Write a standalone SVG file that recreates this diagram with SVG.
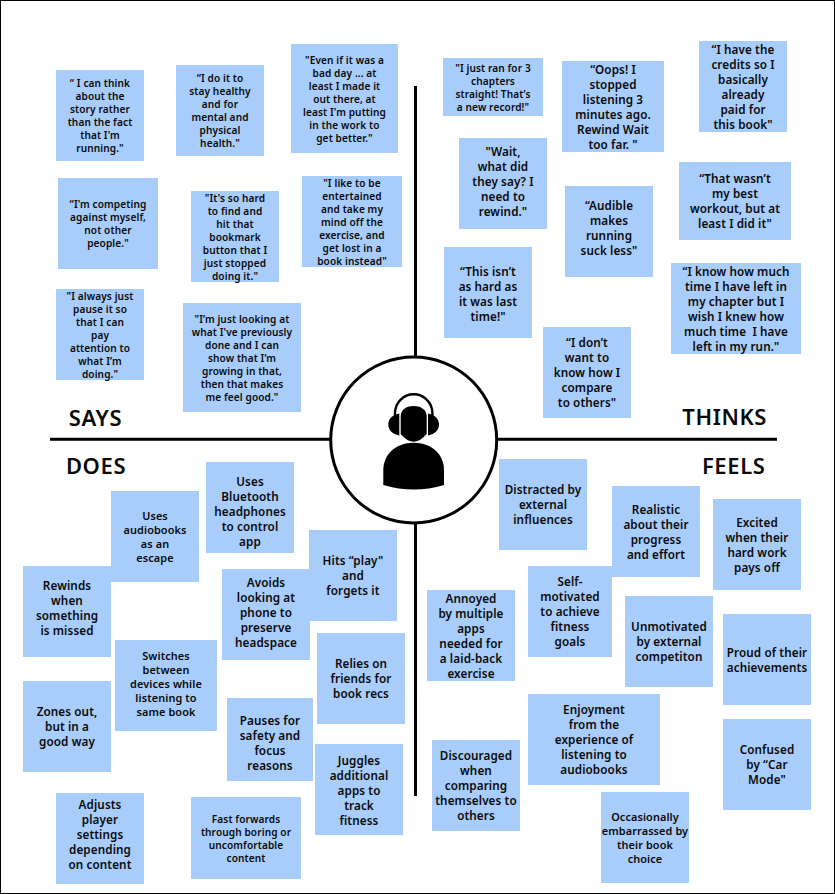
<svg xmlns="http://www.w3.org/2000/svg" width="835" height="894" viewBox="0 0 835 894">
<style>
text{font-family:"Noto Sans","Liberation Sans",sans-serif;font-weight:600;fill:#0a0a0a;text-anchor:middle;white-space:pre}
.n{fill:#a8cdfb}
.s{font-size:10.1px;letter-spacing:.1px}
.t{font-size:10.9px;letter-spacing:.1px}
.m{font-size:11.7px;letter-spacing:.1px}
.h{font-size:22px;letter-spacing:.6px}
.l{stroke:#000;stroke-width:3;fill:none}
</style>
<rect x=".5" y=".5" width="834" height="893" fill="#fff" stroke="#000"/>
<g id="connectors">
<path class="l" d="M415.5 86V357M415.5 523V796M50 439.3H330M497 439.3H777"/>
</g>
<g id="says-1"><rect class="n" x="56" y="70" width="88" height="91"/><text class="s"><tspan x="100" y="87">“ I can think</tspan><tspan x="100" y="100">about the</tspan><tspan x="100" y="113">story rather</tspan><tspan x="100" y="126">than the fact</tspan><tspan x="100" y="139">that I'm</tspan><tspan x="100" y="152">running."</tspan></text></g>
<g id="says-2"><rect class="n" x="176" y="65" width="88" height="91"/><text class="s"><tspan x="220" y="82">“I do it to</tspan><tspan x="220" y="95">stay healthy</tspan><tspan x="220" y="108">and for</tspan><tspan x="220" y="121">mental and</tspan><tspan x="220" y="134">physical</tspan><tspan x="220" y="147">health."</tspan></text></g>
<g id="says-3"><rect class="n" x="291" y="44" width="107" height="109"/><text class="s"><tspan x="344.5" y="63.5">"Even if it was a</tspan><tspan x="344.5" y="76.5">bad day ... at</tspan><tspan x="344.5" y="89.5">least I made it</tspan><tspan x="344.5" y="102.5">out there, at</tspan><tspan x="344.5" y="115.5">least I'm putting</tspan><tspan x="344.5" y="128.5">in the work to</tspan><tspan x="344.5" y="141.5">get better."</tspan></text></g>
<g id="says-4"><rect class="n" x="58" y="178" width="100" height="91"/><text class="s"><tspan x="108" y="208">“I'm competing</tspan><tspan x="108" y="221">against myself,</tspan><tspan x="108" y="234">not other</tspan><tspan x="108" y="247">people."</tspan></text></g>
<g id="says-5"><rect class="n" x="191" y="191" width="88" height="91"/><text class="s"><tspan x="235" y="201.5">"It's so hard</tspan><tspan x="235" y="214.5">to find and</tspan><tspan x="235" y="227.5">hit that</tspan><tspan x="235" y="240.5">bookmark</tspan><tspan x="235" y="253.5">button that I</tspan><tspan x="235" y="266.5">just stopped</tspan><tspan x="235" y="279.5">doing it."</tspan></text></g>
<g id="says-6"><rect class="n" x="302" y="176" width="100" height="91"/><text class="s"><tspan x="352" y="187">"I like to be</tspan><tspan x="352" y="200">entertained</tspan><tspan x="352" y="213">and take my</tspan><tspan x="352" y="226">mind off the</tspan><tspan x="352" y="239">exercise, and</tspan><tspan x="352" y="252">get lost in a</tspan><tspan x="352" y="265">book instead"</tspan></text></g>
<g id="says-7"><rect class="n" x="56" y="289" width="88" height="91"/><text class="s"><tspan x="100" y="299.5">"I always just</tspan><tspan x="100" y="312.5">pause it so</tspan><tspan x="100" y="325.5">that I can</tspan><tspan x="100" y="338.5">pay</tspan><tspan x="100" y="351.5">attention to</tspan><tspan x="100" y="364.5">what I’m</tspan><tspan x="100" y="377.5">doing."</tspan></text></g>
<g id="says-8"><rect class="n" x="183" y="303" width="118" height="109"/><text class="s"><tspan x="242" y="322.7">"I’m just looking at</tspan><tspan x="242" y="335.7">what I've previously</tspan><tspan x="242" y="348.7">done and I can</tspan><tspan x="242" y="361.7">show that I’m</tspan><tspan x="242" y="374.7">growing in that,</tspan><tspan x="242" y="387.7">then that makes</tspan><tspan x="242" y="400.7">me feel good."</tspan></text></g>
<g id="thinks-1"><rect class="n" x="443" y="58" width="100" height="58"/><text class="s"><tspan x="493" y="71.7">"I just ran for 3</tspan><tspan x="493" y="84.7">chapters</tspan><tspan x="493" y="97.7">straight! That’s</tspan><tspan x="493" y="110.7">a new record!"</tspan></text></g>
<g id="thinks-2"><rect class="n" x="562" y="61" width="102" height="91"/><text class="m"><tspan x="613" y="73.5">“Oops! I</tspan><tspan x="613" y="88.5">stopped</tspan><tspan x="613" y="103.5">listening 3</tspan><tspan x="613" y="118.5">minutes ago.</tspan><tspan x="613" y="133.5">Rewind Wait</tspan><tspan x="613" y="148.5">too far. "</tspan></text></g>
<g id="thinks-3"><rect class="n" x="699" y="41" width="88" height="91"/><text class="m"><tspan x="743" y="53.5">“I have the</tspan><tspan x="743" y="68.5">credits so I</tspan><tspan x="743" y="83.5">basically</tspan><tspan x="743" y="98.5">already</tspan><tspan x="743" y="113.5">paid for</tspan><tspan x="743" y="128.5">this book"</tspan></text></g>
<g id="thinks-4"><rect class="n" x="459" y="138" width="88" height="91"/><text class="m"><tspan x="503" y="156">"Wait,</tspan><tspan x="503" y="171">what did</tspan><tspan x="503" y="186">they say? I</tspan><tspan x="503" y="201">need to</tspan><tspan x="503" y="216">rewind."</tspan></text></g>
<g id="thinks-5"><rect class="n" x="565" y="186" width="88" height="91"/><text class="m"><tspan x="609" y="209.5">“Audible</tspan><tspan x="609" y="224.5">makes</tspan><tspan x="609" y="239.5">running</tspan><tspan x="609" y="254.5">suck less"</tspan></text></g>
<g id="thinks-6"><rect class="n" x="679" y="162" width="112" height="78"/><text class="m"><tspan x="735" y="183">“That wasn’t</tspan><tspan x="735" y="198">my best</tspan><tspan x="735" y="213">workout, but at</tspan><tspan x="735" y="228">least I did it"</tspan></text></g>
<g id="thinks-7"><rect class="n" x="444" y="247" width="88" height="91"/><text class="m"><tspan x="488" y="275.5">“This isn’t</tspan><tspan x="488" y="290.5">as hard as</tspan><tspan x="488" y="305.5">it was last</tspan><tspan x="488" y="320.5">time!"</tspan></text></g>
<g id="thinks-8"><rect class="n" x="671" y="263" width="130" height="91"/><text class="m"><tspan x="736" y="275.5">“I know how much</tspan><tspan x="736" y="290.5">time I have left in</tspan><tspan x="736" y="305.5">my chapter but I</tspan><tspan x="736" y="320.5">wish I knew how</tspan><tspan x="736" y="335.5">much time  I have</tspan><tspan x="736" y="350.5">left in my run."</tspan></text></g>
<g id="thinks-9"><rect class="n" x="543" y="327" width="88" height="91"/><text class="m"><tspan x="587" y="347">“I don’t</tspan><tspan x="587" y="362">want to</tspan><tspan x="587" y="377">know how I</tspan><tspan x="587" y="392">compare</tspan><tspan x="587" y="407">to others"</tspan></text></g>
<g id="does-1"><rect class="n" x="206" y="462" width="88" height="91"/><text class="m"><tspan x="250" y="485.5">Uses</tspan><tspan x="250" y="500.5">Bluetooth</tspan><tspan x="250" y="515.5">headphones</tspan><tspan x="250" y="530.5">to control</tspan><tspan x="250" y="545.5">app</tspan></text></g>
<g id="does-2"><rect class="n" x="111" y="491" width="88" height="91"/><text class="t"><tspan x="155" y="519.5">Uses</tspan><tspan x="155" y="533.5">audiobooks</tspan><tspan x="155" y="547.5">as an</tspan><tspan x="155" y="561.5">escape</tspan></text></g>
<g id="does-3"><rect class="n" x="23" y="566" width="88" height="91"/><text class="m"><tspan x="67" y="589.5">Rewinds</tspan><tspan x="67" y="604.5">when</tspan><tspan x="67" y="619.5">something</tspan><tspan x="67" y="634.5">is missed</tspan></text></g>
<g id="does-4"><rect class="n" x="222" y="569" width="88" height="91"/><text class="m"><tspan x="266" y="586.5">Avoids</tspan><tspan x="266" y="601.5">looking at</tspan><tspan x="266" y="616.5">phone to</tspan><tspan x="266" y="631.5">preserve</tspan><tspan x="266" y="646.5">headspace</tspan></text></g>
<g id="does-5"><rect class="n" x="309" y="530" width="88" height="91"/><text class="m"><tspan x="353" y="565">Hits “play"</tspan><tspan x="353" y="580">and</tspan><tspan x="353" y="595">forgets it</tspan></text></g>
<g id="does-6"><rect class="n" x="115" y="640" width="102" height="91"/><text class="t"><tspan x="166" y="660">Switches</tspan><tspan x="166" y="674">between</tspan><tspan x="166" y="688">devices while</tspan><tspan x="166" y="702">listening to</tspan><tspan x="166" y="716">same book</tspan></text></g>
<g id="does-7"><rect class="n" x="317" y="633" width="88" height="91"/><text class="m"><tspan x="361" y="668">Relies on</tspan><tspan x="361" y="683">friends for</tspan><tspan x="361" y="698">book recs</tspan></text></g>
<g id="does-8"><rect class="n" x="23" y="681" width="88" height="91"/><text class="m"><tspan x="67" y="716">Zones out,</tspan><tspan x="67" y="731">but in a</tspan><tspan x="67" y="746">good way</tspan></text></g>
<g id="does-9"><rect class="n" x="227" y="698" width="86" height="83"/><text class="m"><tspan x="270" y="724.5">Pauses for</tspan><tspan x="270" y="739.5">safety and</tspan><tspan x="270" y="754.5">focus</tspan><tspan x="270" y="769.5">reasons</tspan></text></g>
<g id="does-10"><rect class="n" x="315" y="744" width="88" height="91"/><text class="m"><tspan x="359" y="764.5">Juggles</tspan><tspan x="359" y="779.5">additional</tspan><tspan x="359" y="794.5">apps to</tspan><tspan x="359" y="809.5">track</tspan><tspan x="359" y="824.5">fitness</tspan></text></g>
<g id="does-11"><rect class="n" x="56" y="793" width="88" height="91"/><text class="m"><tspan x="100" y="809">Adjusts</tspan><tspan x="100" y="824">player</tspan><tspan x="100" y="839">settings</tspan><tspan x="100" y="854">depending</tspan><tspan x="100" y="869">on content</tspan></text></g>
<g id="does-12"><rect class="n" x="191" y="797" width="110" height="82"/><text class="s"><tspan x="246" y="822.5">Fast forwards</tspan><tspan x="246" y="835.5">through boring or</tspan><tspan x="246" y="848.5">uncomfortable</tspan><tspan x="246" y="861.5">content</tspan></text></g>
<g id="feels-1"><rect class="n" x="499" y="459" width="88" height="91"/><text class="m"><tspan x="543" y="494">Distracted by</tspan><tspan x="543" y="509">external</tspan><tspan x="543" y="524">influences</tspan></text></g>
<g id="feels-2"><rect class="n" x="612" y="486" width="88" height="91"/><text class="m"><tspan x="656" y="513.5">Realistic</tspan><tspan x="656" y="528.5">about their</tspan><tspan x="656" y="543.5">progress</tspan><tspan x="656" y="558.5">and effort</tspan></text></g>
<g id="feels-3"><rect class="n" x="713" y="499" width="88" height="91"/><text class="m"><tspan x="757" y="526.5">Excited</tspan><tspan x="757" y="541.5">when their</tspan><tspan x="757" y="556.5">hard work</tspan><tspan x="757" y="571.5">pays off</tspan></text></g>
<g id="feels-4"><rect class="n" x="528" y="566" width="84" height="91"/><text class="m"><tspan x="570" y="586">Self-</tspan><tspan x="570" y="601">motivated</tspan><tspan x="570" y="616">to achieve</tspan><tspan x="570" y="631">fitness</tspan><tspan x="570" y="646">goals</tspan></text></g>
<g id="feels-5"><rect class="n" x="427" y="590" width="88" height="91"/><text class="m"><tspan x="471" y="602.5">Annoyed</tspan><tspan x="471" y="617.5">by multiple</tspan><tspan x="471" y="632.5">apps</tspan><tspan x="471" y="647.5">needed for</tspan><tspan x="471" y="662.5">a laid-back</tspan><tspan x="471" y="677.5">exercise</tspan></text></g>
<g id="feels-6"><rect class="n" x="625" y="596" width="88" height="91"/><text class="m"><tspan x="669" y="631">Unmotivated</tspan><tspan x="669" y="646">by external</tspan><tspan x="669" y="661">competiton</tspan></text></g>
<g id="feels-7"><rect class="n" x="723" y="614" width="88" height="91"/><text class="m"><tspan x="767" y="656.5">Proud of their</tspan><tspan x="767" y="671.5">achievements</tspan></text></g>
<g id="feels-8"><rect class="n" x="528" y="694" width="132" height="91"/><text class="m"><tspan x="594" y="714">Enjoyment</tspan><tspan x="594" y="729">from the</tspan><tspan x="594" y="744">experience of</tspan><tspan x="594" y="759">listening to</tspan><tspan x="594" y="774">audiobooks</tspan></text></g>
<g id="feels-9"><rect class="n" x="723" y="719" width="88" height="91"/><text class="m"><tspan x="767" y="754">Confused</tspan><tspan x="767" y="769">by “Car</tspan><tspan x="767" y="784">Mode"</tspan></text></g>
<g id="feels-10"><rect class="n" x="432" y="740" width="88" height="91"/><text class="m"><tspan x="476" y="760">Discouraged</tspan><tspan x="476" y="775">when</tspan><tspan x="476" y="790">comparing</tspan><tspan x="476" y="805">themselves to</tspan><tspan x="476" y="820">others</tspan></text></g>
<g id="feels-11"><rect class="n" x="601" y="792" width="88" height="91"/><text class="t"><tspan x="645" y="821">Occasionally</tspan><tspan x="645" y="835">embarrassed by</tspan><tspan x="645" y="849">their book</tspan><tspan x="645" y="863">choice</tspan></text></g>
<g id="label-says"><text class="h" x="95.5" y="425.7">SAYS</text></g>
<g id="label-thinks"><text class="h" x="724.7" y="425.4">THINKS</text></g>
<g id="label-does"><text class="h" x="96" y="474.2">DOES</text></g>
<g id="label-feels"><text class="h" x="733.7" y="474.2">FEELS</text></g>
<g id="center">
<circle cx="413.7" cy="440" r="83" fill="#fff" stroke="#000" stroke-width="3"/>
<path fill="none" stroke="#000" stroke-width="2.4" d="M395 416V413A18.7 18.7 0 0 1 432.4 413V416"/>
<path d="M399.3 413.5C392 415 388.3 419 388.3 424.5C388.3 430 392 434 399.3 435.5ZM428 413.5C435.3 415 439 419 439 424.5C439 430 435.3 434 428 435.5Z"/>
<path d="M400.7 416C401 409 407 406 413.7 406C420 406 426.4 409 426.7 416V434Q420 441.7 413.7 441.7Q407 441.7 400.7 434Z"/>
<path d="M383.3 485V470C383.3 455 395 442.7 413.7 442.7S444 455 444 470V485Q413.7 494 383.3 485Z"/>
</g>
</svg>
